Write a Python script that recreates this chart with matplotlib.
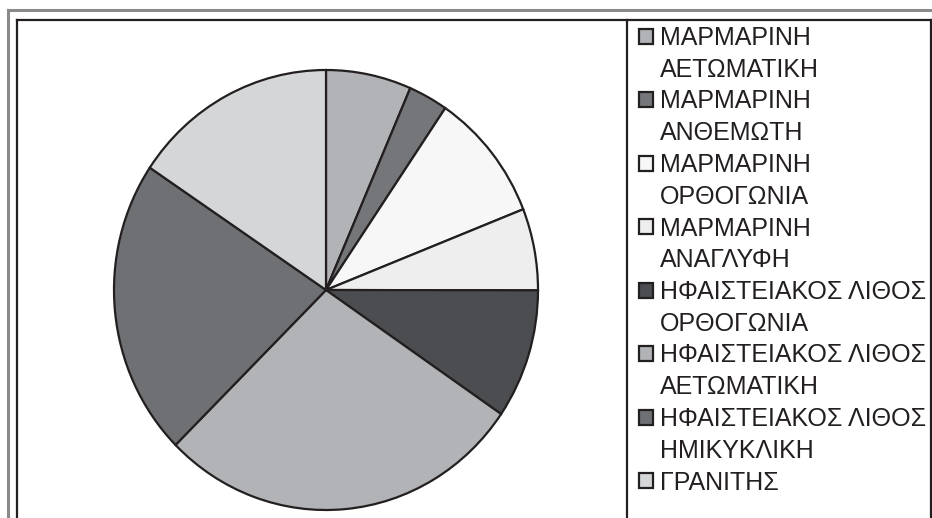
import matplotlib
matplotlib.use("Agg")
import matplotlib.pyplot as plt
from matplotlib.patches import Rectangle
from matplotlib.lines import Line2D

plt.rcParams['font.family'] = ['Liberation Sans', 'DejaVu Sans']

categories = [
    "ΜΑΡΜΑΡΙΝΗ\nΑΕΤΩΜΑΤΙΚΗ",
    "ΜΑΡΜΑΡΙΝΗ\nΑΝΘΕΜΩΤΗ",
    "ΜΑΡΜΑΡΙΝΗ\nΟΡΘΟΓΩΝΙΑ",
    "ΜΑΡΜΑΡΙΝΗ\nΑΝΑΓΛΥΦΗ",
    "ΗΦΑΙΣΤΕΙΑΚΟΣ ΛΙΘΟΣ\nΟΡΘΟΓΩΝΙΑ",
    "ΗΦΑΙΣΤΕΙΑΚΟΣ ΛΙΘΟΣ\nΑΕΤΩΜΑΤΙΚΗ",
    "ΗΦΑΙΣΤΕΙΑΚΟΣ ΛΙΘΟΣ\nΗΜΙΚΥΚΛΙΚΗ",
    "ΓΡΑΝΙΤΗΣ",
]
values = [6.5, 3.0, 9.5, 6.0, 9.5, 28.0, 21.8, 15.6]
colors = ["#b2b3b6", "#75767a", "#f7f7f7", "#eeeeef",
          "#4c4d50", "#b2b3b6", "#6f7074", "#d5d6d8"]

W, H = 932, 518
fig = plt.figure(figsize=(W / 100, H / 100), dpi=100)

# pie axes (slightly elliptical like the reference)
cx, cy, rx, ry = 326, 290, 212, 220
ax = fig.add_axes([(cx - rx) / W, (H - cy - ry) / H, 2 * rx / W, 2 * ry / H])
ax.pie(values, colors=colors, startangle=90, counterclock=False,
       wedgeprops=dict(edgecolor="#231f20", linewidth=1.6))
ax.set_aspect('auto')
ax.set_xlim(-1.0, 1.0)
ax.set_ylim(-1.0, 1.0)
ax.axis('off')

# frames
def fx(x):
    return x / W

def fy(y):
    return 1 - y / H

fig.add_artist(Line2D([fx(8), fx(8)], [fy(10), 0], color="#8a8a8a", lw=2.2, transform=fig.transFigure))
fig.add_artist(Line2D([fx(8), 1], [fy(10), fy(10)], color="#8a8a8a", lw=2.2, transform=fig.transFigure))
fig.add_artist(Line2D([fx(17), fx(17)], [fy(20), 0], color="#231f20", lw=1.6, transform=fig.transFigure))
fig.add_artist(Line2D([fx(17), fx(931)], [fy(20), fy(20)], color="#231f20", lw=1.6, transform=fig.transFigure))
fig.add_artist(Line2D([fx(931), fx(931)], [fy(20), 0], color="#231f20", lw=1.6, transform=fig.transFigure))
fig.add_artist(Line2D([fx(627), fx(627)], [fy(20), 0], color="#231f20", lw=1.6, transform=fig.transFigure))

# legend: one row per text line, square only on first line of each entry
handles, labels = [], []
for cat, col in zip(categories, colors):
    lines = cat.split("\n")
    for i, ln in enumerate(lines):
        if i == 0:
            handles.append(Rectangle((0, 0), 1, 1, facecolor=col, edgecolor="#231f20", linewidth=1.6))
        else:
            handles.append(Rectangle((0, 0), 1, 1, facecolor="none", edgecolor="none"))
        labels.append(ln)

leg = fig.legend(handles, labels, loc="upper left",
                 bbox_to_anchor=(fx(639), fy(26)),
                 bbox_transform=fig.transFigure,
                 frameon=False, fontsize=18, borderpad=0, borderaxespad=0,
                 handlelength=0.55, handleheight=0.55, handletextpad=0.3,
                 labelspacing=0.31, labelcolor="#231f20")

fig.savefig("out.png", dpi=100)
